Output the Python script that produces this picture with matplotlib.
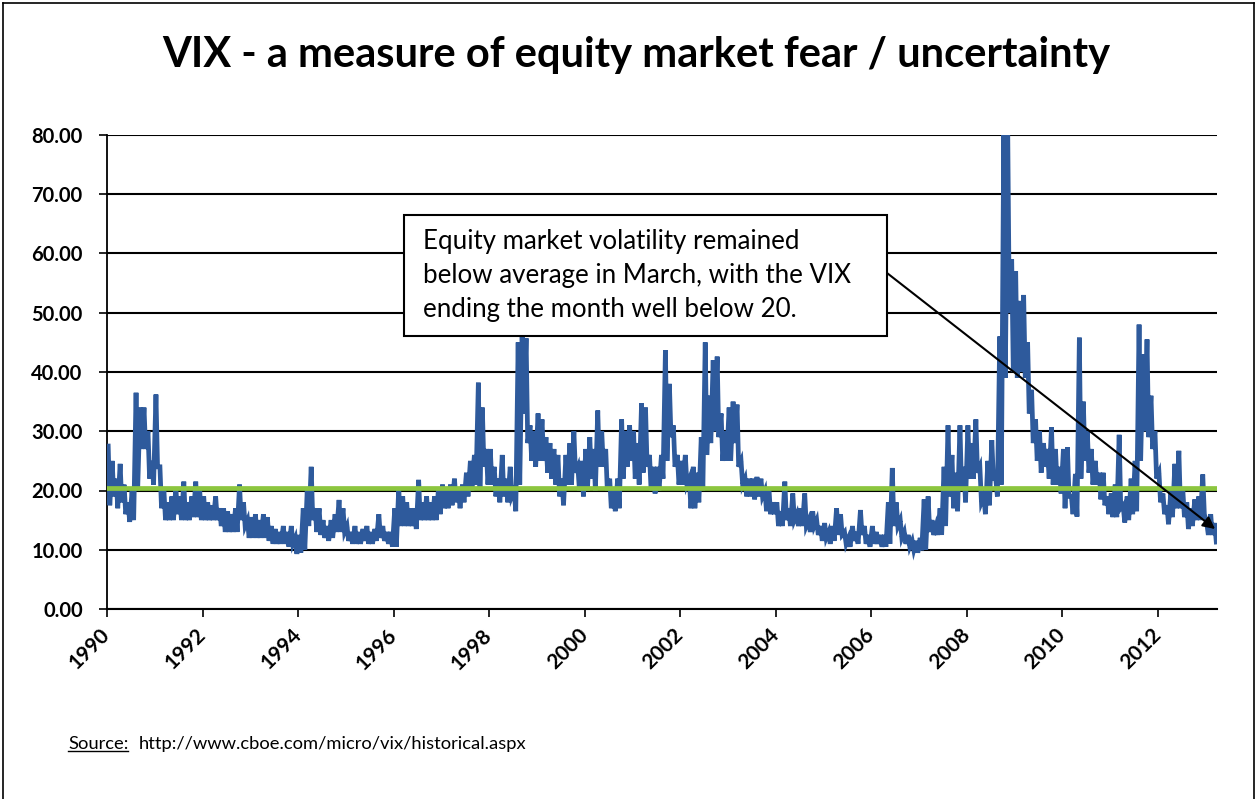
import matplotlib
matplotlib.use("Agg")
import matplotlib.pyplot as plt
from matplotlib.lines import Line2D
from matplotlib.patches import Rectangle
import numpy as np

# Monthly highs / lows of the VIX (Jan..Dec)
years = list(range(1990, 2014))
vix_high = {
    1990: [27.5, 25, 22, 24.5, 21, 18, 20, 36.5, 34, 34, 30, 25],
    1991: [36.2, 24, 20, 18, 19, 20.5, 19, 21.5, 18, 19, 21.5, 20],
    1992: [19, 18, 17.5, 19, 17, 17, 16.5, 16, 17, 21, 18, 15],
    1993: [15.5, 16, 15, 16, 15.5, 14, 13.5, 13, 14, 13, 14, 12],
    1994: [12.5, 17, 20, 24, 17, 17, 15, 14, 15, 16, 18.4, 17],
    1995: [14, 13, 14, 13, 13.5, 14, 13, 13.5, 16, 14, 13, 13],
    1996: [17, 20.5, 19, 18, 17, 17, 21.8, 18, 19, 18, 19, 20.5],
    1997: [21, 20, 21, 22, 20, 21, 23, 25, 26, 38.2, 34, 27],
    1998: [27, 24, 22, 26, 22, 24, 20, 45, 46, 45.7, 31, 30],
    1999: [33, 32, 29, 28, 27, 26, 22, 26, 28, 30, 24, 25],
    2000: [27, 29, 27, 33.5, 30, 27, 22, 20, 22, 32, 30, 31],
    2001: [30, 28, 34.7, 34, 26, 24, 24, 26, 43.7, 38, 31, 26],
    2002: [25, 26, 22, 24, 23, 29, 45, 36, 42, 42.6, 33, 30],
    2003: [34, 35, 34.5, 25, 22, 22, 22, 22.3, 22, 20, 20.5, 18],
    2004: [18, 16.5, 21.5, 17, 19.5, 16, 17, 19.5, 15, 16.5, 15, 14],
    2005: [14.5, 13, 14, 17, 16, 13, 12, 14, 13, 16.7, 14, 12.5],
    2006: [14, 13, 12.5, 12.5, 18, 23.8, 18, 15, 13, 12.5, 11.5, 11.5],
    2007: [12, 18.5, 19, 15, 14, 17, 24, 31, 26, 23, 31, 24],
    2008: [31, 28, 32, 24, 19, 25, 28.5, 22, 46, 80, 80.8, 59],
    2009: [57, 52, 53, 45, 37, 32, 30, 28, 27, 30.7, 27, 24],
    2010: [27, 27.3, 19, 22.8, 45.8, 35, 30, 27, 25, 23, 23, 19],
    2011: [19.5, 21, 29.4, 17.5, 19, 22, 25, 48, 43, 45.5, 36, 30],
    2012: [23, 19.5, 17.5, 20, 24.5, 26.7, 20, 18, 17, 18.5, 19, 22.7],
    2013: [14.5, 16, 14.5],
}
vix_low = {
    1990: [17.5, 19, 17, 18, 16, 14.7, 15, 20, 27, 27, 22, 21],
    1991: [24, 17, 15, 15, 15, 16, 15, 15, 15, 15.5, 15.5, 15],
    1992: [15, 15, 15, 15, 14, 13, 13, 13, 13, 15, 14, 12],
    1993: [12, 12, 12, 12, 11.5, 11, 11, 11, 11, 10.5, 11, 9.3],
    1994: [9.5, 10, 14, 15, 13, 12.5, 12, 11.5, 12, 13, 13, 13],
    1995: [11.5, 11, 11, 11, 11.5, 11, 11, 11.5, 12, 11.5, 11, 10.5],
    1996: [10.5, 14, 14, 14, 14, 13.5, 15, 15, 15, 15, 15, 16],
    1997: [17, 17, 17.5, 18, 17, 18, 19, 20, 21, 20.5, 24, 21],
    1998: [21, 19, 18, 19, 18, 19, 16.5, 21, 33, 28, 25, 24],
    1999: [25, 25, 23, 22, 21, 19, 17.5, 21, 21, 23, 20, 19],
    2000: [20, 22, 20, 24, 24, 20, 17, 16.5, 17, 22, 24, 25],
    2001: [22, 21, 23, 24, 20, 19.5, 20, 22, 25, 29, 24, 21],
    2002: [21, 21, 17, 17, 18, 20, 26, 28, 30, 29, 25, 25],
    2003: [25, 28, 24, 21, 19, 19, 18.5, 19, 19, 16.5, 16, 16],
    2004: [14, 14, 15, 14, 15, 14, 14, 14, 13, 14, 12.5, 11.5],
    2005: [12, 11, 11.5, 12.5, 12.5, 11, 10.5, 11.5, 11, 12.5, 11, 10.5],
    2006: [11, 11, 10.5, 10.5, 11, 14, 14, 12, 11, 10.5, 10, 9.5],
    2007: [9.9, 10, 13, 12.5, 12.5, 12.5, 14, 19, 17, 16.5, 20, 18],
    2008: [22, 22, 23, 18, 16, 17.5, 22, 19, 21, 39, 50, 40],
    2009: [39, 40, 39, 33, 28, 25, 23, 24, 22, 21, 21, 19.5],
    2010: [17, 19, 16, 15.6, 22, 25, 23, 21, 21, 18.5, 17.5, 16],
    2011: [15.5, 15.5, 17, 14.6, 15, 16, 16.5, 25, 30, 29, 27, 22],
    2012: [18, 16, 14.3, 15.5, 17, 17, 15.5, 13.5, 14, 15, 15, 16],
    2013: [12.5, 12.5, 11.3],
}
vix_average = 20.4
y_ticks = [0, 10, 20, 30, 40, 50, 60, 70, 80]
x_tick_years = list(range(1990, 2013, 2))

title = "VIX - a measure of equity market fear / uncertainty"
note = ("Equity market volatility remained\n"
        "below average in March, with the VIX\n"
        "ending the month well below 20.")
source_label = "Source:"
source_url = "http://www.cboe.com/micro/vix/historical.aspx"

# build the series: high then low for each month
xs, ys = [], []
for y in years:
    for m, (h, l) in enumerate(zip(vix_high[y], vix_low[y])):
        xs.append(y + (m + 0.3) / 12.0)
        ys.append(h)
        xs.append(y + (m + 0.7) / 12.0)
        ys.append(l)

plt.rcParams['font.family'] = ['Lato', 'DejaVu Sans']

W, H = 1257, 799
fig = plt.figure(figsize=(W / 100, H / 100), dpi=100)

def fx(px):
    return px / W

def fy(py):
    return 1 - py / H

ax = fig.add_axes([fx(107), fy(609), fx(1217) - fx(107), fy(135) - fy(609)])
ax.plot(xs, ys, color='#2e5a9c', lw=3.4, solid_joinstyle='miter', zorder=3)
ax.axhline(vix_average, color='#8cc63f', lw=3.4, zorder=4)

ax.set_xlim(1990.0, 2013.24)
ax.set_ylim(0, 80)
ax.set_yticks(y_ticks)
ax.set_yticklabels([f"{v:.2f}" for v in y_ticks], fontsize=14.5, fontweight='bold')
ax.set_xticks(x_tick_years)
ax.set_xticklabels([str(v) for v in x_tick_years], rotation=45, ha='right',
                   va='center', rotation_mode='anchor', fontsize=15,
                   fontweight='bold')
ax.grid(axis='y', color='black', lw=1.5, zorder=1)
for s in ['top', 'right']:
    ax.spines[s].set_visible(False)
ax.spines['left'].set_linewidth(1.3)
ax.spines['bottom'].set_linewidth(1.5)
ax.tick_params(axis='both', direction='out', length=5.5, width=1.2, colors='black')
ax.tick_params(axis='y', pad=12)
ax.tick_params(axis='x', pad=11)

# title
fig.text(fx(636), fy(55), title, ha='center', va='center', fontsize=30,
         fontweight='bold', color='black')

# annotation box
box = Rectangle((fx(404), fy(336)), fx(887) - fx(404), fy(215) - fy(336),
                transform=fig.transFigure, facecolor='white', edgecolor='black',
                lw=1.5, zorder=10)
fig.patches.append(box)
fig.text(fx(423), fy(229), note, ha='left', va='top', fontsize=18.6,
         linespacing=1.45, color='black', zorder=11)
ax.annotate("", xy=(2013.2, 13.5), xycoords='data',
            xytext=(fx(887), fy(273)), textcoords='figure fraction',
            arrowprops=dict(arrowstyle='-|>', color='black', lw=1.5,
                            mutation_scale=18, shrinkA=0, shrinkB=0),
            zorder=12, annotation_clip=False)

# source line
src1 = fig.text(fx(68), fy(744), source_label, ha='left', va='center', fontsize=13.2)
fig.canvas.draw()
r = fig.canvas.get_renderer()
bb = src1.get_window_extent(r)
fig.add_artist(Line2D([bb.x0 / W, bb.x1 / W], [(bb.y0 + 1) / H, (bb.y0 + 1) / H],
                      transform=fig.transFigure, color='black', lw=1.0))
fig.text(bb.x1 / W + fx(10), fy(744), source_url, ha='left', va='center', fontsize=13.2)

# outer frame
for (xa, ya, xb, yb) in [(3, 3, 1254, 3), (3, 3, 3, 799), (1254, 3, 1254, 799)]:
    fig.add_artist(Line2D([fx(xa), fx(xb)], [fy(ya), fy(yb)],
                          transform=fig.transFigure, color='black', lw=1.2))

fig.savefig("out.png", dpi=100)
